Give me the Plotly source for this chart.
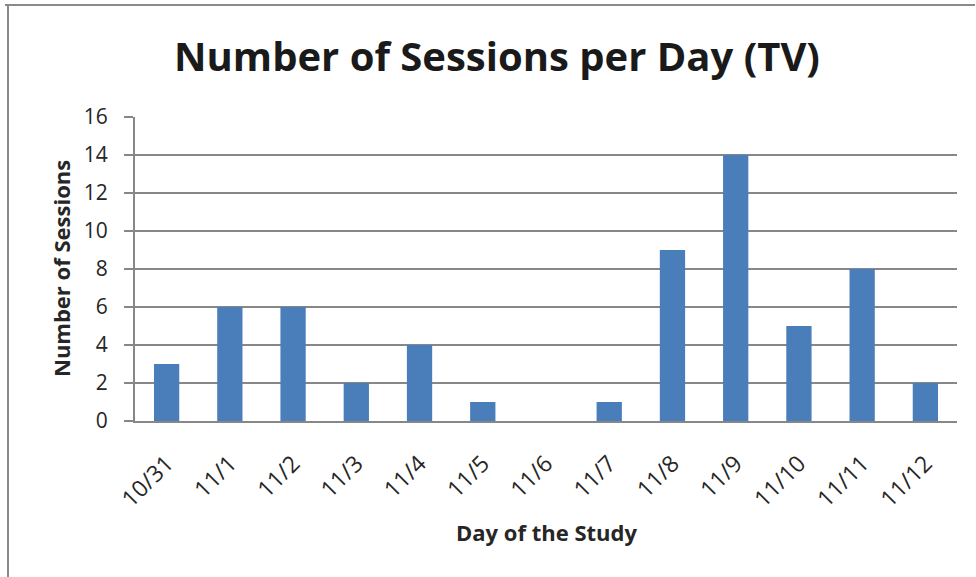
import plotly.graph_objects as go

days = ["10/31", "11/1", "11/2", "11/3", "11/4", "11/5", "11/6",
        "11/7", "11/8", "11/9", "11/10", "11/11", "11/12"]
sessions = [3, 6, 6, 2, 4, 1, 0, 1, 9, 14, 5, 8, 2]
y_ticks = [0, 2, 4, 6, 8, 10, 12, 14, 16]

W, H = 976, 577
L, R, T, B = 135, 19, 117, 156
pw, ph = W - L - R, H - T - B

font = "Open Sans, Liberation Sans, sans-serif"
grid = "#878787"

fig = go.Figure(go.Bar(
    x=days, y=sessions,
    marker=dict(color="#4A7EBB", line=dict(width=0)),
    width=0.4,
))

fig.update_layout(
    width=W, height=H,
    margin=dict(l=L, r=R, t=T, b=B, autoexpand=False),
    paper_bgcolor="white", plot_bgcolor="white",
    showlegend=False,
    title=dict(text="<b>Number of Sessions per Day (TV)</b>",
               x=497 / W, xanchor="center", y=1 - 57 / H, yanchor="middle",
               font=dict(family=font, size=40, color="#1a1a1a")),
    font=dict(family=font, color="#262626"),
)

fig.update_xaxes(
    type="category", tickangle=-45, tickfont=dict(size=23, color="#262626"),
    showgrid=False, showline=True, linecolor=grid, linewidth=2,
    ticks="", ticklabelstandoff=18,
)
fig.update_yaxes(
    range=[0, 16], tickvals=y_ticks, ticktext=[str(v) for v in y_ticks],
    tickfont=dict(size=21, color="#262626"),
    showgrid=True, gridcolor=grid, gridwidth=2,
    showline=True, linecolor=grid, linewidth=2,
    ticks="outside", ticklen=9, tickcolor=grid, tickwidth=2,
    zeroline=False, ticklabelstandoff=12,
)

def px_x(p):
    return (p - L) / pw

def px_y(p):
    return 1 - (p - T) / ph

# axis titles
fig.add_annotation(text="<b>Day of the Study</b>", xref="paper", yref="paper",
                   x=px_x(546), y=px_y(532), showarrow=False,
                   xanchor="center", yanchor="middle",
                   font=dict(family=font, size=22, color="#262626"))
fig.add_annotation(text="<b>Number of Sessions</b>", xref="paper", yref="paper",
                   x=px_x(61), y=px_y(269), showarrow=False, textangle=-90,
                   xanchor="center", yanchor="middle",
                   font=dict(family=font, size=22, color="#262626"))

# chart-area border (top and left edges visible in reference)
fig.add_shape(type="line", xref="paper", yref="paper",
              x0=px_x(5), x1=px_x(975), y0=px_y(5), y1=px_y(5),
              line=dict(color="#8a8a8a", width=2))
fig.add_shape(type="line", xref="paper", yref="paper",
              x0=px_x(8), x1=px_x(8), y0=px_y(5), y1=px_y(580),
              line=dict(color="#8a8a8a", width=2))

fig.write_html("out.html", config={"displayModeBar": False},
               post_script="document.body.style.margin='0';")
